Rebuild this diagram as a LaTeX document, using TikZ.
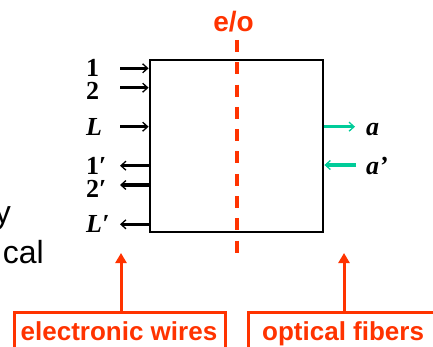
\documentclass[tikz,border=0pt]{standalone}
\usepackage{fontspec}
\setmainfont{Liberation Serif}
\newfontfamily\arialf{Liberation Sans}
\usetikzlibrary{arrows.meta}
\definecolor{ored}{RGB}{255,51,0}
\definecolor{fgreen}{RGB}{0,204,153}
\tikzset{
  lbl/.style={inner sep=0pt, font=\fontsize{26}{30}\selectfont\bfseries},
  redlbl/.style={inner sep=0pt, text=ored, font=\arialf\fontsize{26}{30}\selectfont\bfseries},
  wire/.style={line width=3.2pt, -{Straight Barb[length=5pt,width=9pt,line width=1.3pt]}},
  fiber/.style={wire, draw=fgreen},
  callout/.style={draw=ored, line width=3pt, -{Triangle[length=10pt,width=11pt]}},
  calbox/.style={draw=ored, line width=3pt},
}
\begin{document}
\begin{tikzpicture}[x=1pt,y=-1pt]
\useasboundingbox (0,0) rectangle (433,347);
% main box
\node (box) [draw, line width=2.8pt, minimum width=173pt, minimum height=172pt, inner sep=0pt] at (236.5,146) {};
% e/o label and dashed line
\node (eo) [redlbl, anchor=base, font=\arialf\fontsize{28}{32}\selectfont\bfseries] at (233.5,32) {e/o};
\coordinate (eotop) at (237,40);
\coordinate (eobot) at (237,253);
\draw[ored, line width=3.5pt, dash pattern=on 12pt off 10.3pt] (eotop) -- (eobot);
% left labels
\node (l1) [lbl, anchor=base west] at (86,77) {1};
\node (l2) [lbl, anchor=base west] at (86,100) {2};
\node (lL) [lbl, anchor=base west] at (86,136) {\itshape L};
\node (l1p) [lbl, anchor=base west] at (86,175) {1′};
\node (l2p) [lbl, anchor=base west] at (86,198) {2′};
\node (lLp) [lbl, anchor=base west] at (86,233) {\itshape L′};
% left wires
\coordinate (w1) at (120,68.3);
\coordinate (w2) at (120,87.7);
\coordinate (wL) at (120,126.7);
\coordinate (w1p) at (120,165.7);
\coordinate (w2p) at (120,185);
\coordinate (wLp) at (120,224.3);
\draw[wire] (w1) -- (w1 -| box.west);
\draw[wire] (w2) -- (w2 -| box.west);
\draw[wire] (wL) -- (wL -| box.west);
\draw[wire] (w1p -| box.west) -- (w1p);
\draw[wire] (w2p -| box.west) -- (w2p);
\draw[wire] (wLp -| box.west) -- (wLp);
% right labels and fibers
\node (ra) [lbl, anchor=base west] at (366,136) {\itshape a};
\node (rap) [lbl, anchor=base west] at (366,175) {\itshape a’};
\coordinate (fa) at (355,126.7);
\coordinate (fap) at (356,165);
\draw[fiber] (fa -| box.east) -- (fa);
\draw[fiber] (fap) -- (fap -| box.east);
% left cut-off text
\node (ty) [inner sep=0pt, anchor=base east, font=\arialf\fontsize{32}{38}\selectfont] at (11,223) {y};
\node (tcal) [inner sep=0pt, anchor=base east, font=\arialf\fontsize{32}{38}\selectfont] at (44,263) {cal};
% bottom callouts
\node (ew) [redlbl, anchor=base west] at (20.5,340) {electronic wires};
\node (of) [redlbl, anchor=base west] at (262,340) {optical fibers};
\draw[calbox] (14.5,352) -- (14.5,312.5) -- (225.5,312.5) -- (225.5,352);
\draw[calbox] (248.5,352) -- (248.5,312.5) -- (440,312.5);
\coordinate (ca1) at (121,312.5);
\coordinate (ca1t) at (121,253);
\coordinate (ca2) at (344,312.5);
\coordinate (ca2t) at (344,253);
\draw[callout] (ca1) -- (ca1t);
\draw[callout] (ca2) -- (ca2t);
\end{tikzpicture}
\end{document}
